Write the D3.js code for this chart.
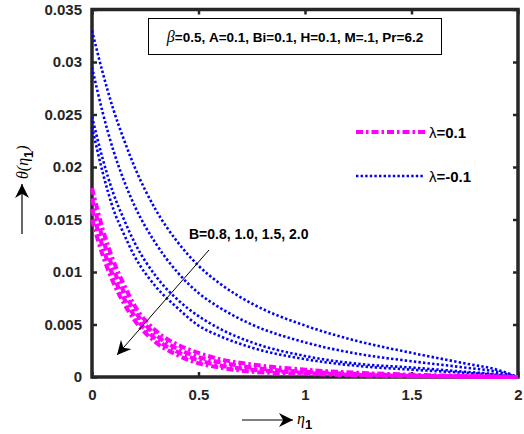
<!DOCTYPE html>
<html><head><meta charset="utf-8">
<script src="https://cdn.jsdelivr.net/npm/d3@7"></script>
<style>body{margin:0;background:#fff}svg{display:block}</style>
</head><body>
<script>
// ---- data ----
const etaValues = [0, 0.05, 0.1, 0.15, 0.2, 0.3, 0.4, 0.5, 0.6, 0.75, 1.0, 1.25, 1.5, 1.75, 1.9, 2.0];
const Bvalues = ["0.8", "1.0", "1.5", "2.0"];
// lambda = -0.1 (blue dotted)
const blueB08 = [0.0330, 0.0290, 0.0255, 0.0226, 0.0200, 0.0159, 0.0129, 0.0106, 0.0089, 0.0070, 0.0049, 0.0034, 0.0023, 0.0013, 0.0007, 0];
const blueB10 = [0.0295, 0.0252, 0.0216, 0.0187, 0.0163, 0.0127, 0.0100, 0.0080, 0.0066, 0.0050, 0.0033, 0.0022, 0.0015, 0.0009, 0.0005, 0];
const blueB15 = [0.0248, 0.0208, 0.0175, 0.0150, 0.0128, 0.0096, 0.0074, 0.0058, 0.0046, 0.0033, 0.0020, 0.00125, 0.0009, 0.0005, 0.00025, 0];
const blueB20 = [0.0238, 0.0195, 0.0160, 0.0136, 0.0115, 0.0086, 0.0066, 0.0049, 0.0039, 0.0028, 0.0017, 0.00105, 0.0007, 0.0004, 0.0002, 0];
// lambda = 0.1 (magenta dash-dot)
const magB08 = [0.0180, 0.0141, 0.0111, 0.0088, 0.0068, 0.0044, 0.0031, 0.0023, 0.0017, 0.0012, 0.0007, 0.0004, 0.00022, 0.0001, 0.00004, 0];
const magB10 = [0.0170, 0.0132, 0.0103, 0.0081, 0.0063, 0.0040, 0.0027, 0.0019, 0.0014, 0.0009, 0.0005, 0.0003, 0.00015, 0.00007, 0.00003, 0];
const magB15 = [0.0160, 0.0124, 0.0096, 0.0075, 0.0058, 0.0036, 0.0024, 0.0016, 0.0011, 0.0007, 0.0004, 0.0002, 0.0001, 0.00005, 0.00002, 0];
const magB20 = [0.0150, 0.0116, 0.0090, 0.0070, 0.0054, 0.0033, 0.0021, 0.0013, 0.0009, 0.0005, 0.0003, 0.00015, 0.00008, 0.00003, 0.00001, 0];
const xTicks = [0, 0.5, 1, 1.5, 2];
const xTickLabels = ["0", "0.5", "1", "1.5", "2"];
const yTicks = [0, 0.005, 0.01, 0.015, 0.02, 0.025, 0.03, 0.035];
const yTickLabels = ["0", "0.005", "0.01", "0.015", "0.02", "0.025", "0.03", "0.035"];
const legendLabels = ["\u03bb=0.1", "\u03bb=-0.1"];
const paramText = "=0.5, A=0.1, Bi=0.1, H=0.1, M=.1, Pr=6.2";
const bText = "B=0.8, 1.0, 1.5, 2.0";

// ---- layout ----
const W = 524, H = 434;
const L = 92, R = 518, T = 9.5, B = 377;
const axisColor = "#262626";
const svg = d3.select("body").append("svg").attr("width", W).attr("height", H);
const x = d3.scaleLinear().domain([0, 2]).range([L, R]);
const y = d3.scaleLinear().domain([0, 0.035]).range([B, T]);
const sans = "Liberation Sans, Arial, sans-serif";
const serif = "Liberation Serif, Times New Roman, serif";

function styleAxis(g, showLabels) {
  g.attr("font-family", sans).attr("font-size", 15).attr("font-weight", 700);
  g.select(".domain").remove();
  g.selectAll(".tick line").attr("stroke", axisColor).attr("stroke-width", 2.5);
  g.selectAll(".tick text").attr("fill", axisColor);
  if (!showLabels) g.selectAll(".tick text").remove();
}
const fx = (d) => xTickLabels[xTicks.indexOf(d)];
const fy = (d) => yTickLabels[yTicks.indexOf(d)];
svg.append("g").attr("transform", `translate(0,${B})`)
  .call(d3.axisBottom(x).tickValues(xTicks).tickFormat(fx).tickSizeInner(-5).tickSizeOuter(0).tickPadding(12))
  .call(g => styleAxis(g, true));
svg.append("g").attr("transform", `translate(0,${T})`)
  .call(d3.axisTop(x).tickValues(xTicks).tickSizeInner(-5).tickSizeOuter(0))
  .call(g => styleAxis(g, false));
svg.append("g").attr("transform", `translate(${L},0)`)
  .call(d3.axisLeft(y).tickValues(yTicks).tickFormat(fy).tickSizeInner(-5).tickSizeOuter(0).tickPadding(10))
  .call(g => styleAxis(g, true));
svg.append("g").attr("transform", `translate(${R},0)`)
  .call(d3.axisRight(y).tickValues(yTicks).tickSizeInner(-5).tickSizeOuter(0))
  .call(g => styleAxis(g, false));
svg.append("rect").attr("x", L).attr("y", T).attr("width", R - L).attr("height", B - T)
  .attr("fill", "none").attr("stroke", axisColor).attr("stroke-width", 3.5);

// ---- curves ----
const line = d3.line().x((d, i) => x(etaValues[i])).y(d => y(d)).curve(d3.curveMonotoneX);
const blueSeries = [blueB08, blueB10, blueB15, blueB20];
const magSeries = [magB08, magB10, magB15, magB20];
blueSeries.forEach(s => svg.append("path").attr("d", line(s)).attr("fill", "none")
  .attr("stroke", "#0000ff").attr("stroke-width", 2.6).attr("stroke-dasharray", "2.4,2.2"));
magSeries.forEach(s => svg.append("path").attr("d", line(s)).attr("fill", "none")
  .attr("stroke", "#ff00ff").attr("stroke-width", 4).attr("stroke-dasharray", "7,3,2.5,3"));

// ---- parameter box ----
svg.append("rect").attr("x", 148.5).attr("y", 18.5).attr("width", 293).attr("height", 36)
  .attr("fill", "#fff").attr("stroke", "#000").attr("stroke-width", 1);
const pt = svg.append("text").attr("x", 295).attr("y", 42).attr("text-anchor", "middle")
  .attr("font-family", sans).attr("font-size", 13.5).attr("font-weight", 700).attr("fill", "#000");
pt.append("tspan").text("\u03b2").attr("font-family", serif).attr("font-style", "italic").attr("font-weight", 400).attr("font-size", 16);
pt.append("tspan").text(paramText);

// ---- legend ----
const legY = [132, 176];
svg.append("line").attr("x1", 356).attr("x2", 425).attr("y1", legY[0]).attr("y2", legY[0])
  .attr("stroke", "#ff00ff").attr("stroke-width", 4).attr("stroke-dasharray", "7,3,2.5,3");
svg.append("line").attr("x1", 356).attr("x2", 425).attr("y1", legY[1]).attr("y2", legY[1])
  .attr("stroke", "#0000ff").attr("stroke-width", 2.6).attr("stroke-dasharray", "2.4,2.2");
legendLabels.forEach((t, i) => {
  const tx = svg.append("text").attr("x", 429).attr("y", legY[i] + 5.5)
    .attr("font-family", sans).attr("font-size", 15).attr("font-weight", 700).attr("fill", "#000");
  tx.append("tspan").text(t.slice(0, 1)).attr("font-weight", 400);
  tx.append("tspan").text(t.slice(1));
});

// ---- B annotation ----
svg.append("text").attr("x", 189).attr("y", 239).text(bText)
  .attr("font-family", sans).attr("font-size", 14).attr("font-weight", 700).attr("fill", "#000");
const defs = svg.append("defs");
defs.append("marker").attr("id", "ah").attr("viewBox", "0 0 10 10").attr("refX", 10).attr("refY", 5)
  .attr("markerWidth", 14).attr("markerHeight", 14).attr("markerUnits", "userSpaceOnUse").attr("orient", "auto")
  .append("path").attr("d", "M0,0 L10,5 L0,10 L3,5 Z").attr("fill", "#000");
svg.append("line").attr("x1", 209).attr("y1", 250).attr("x2", 117).attr("y2", 355)
  .attr("stroke", "#000").attr("stroke-width", 1).attr("marker-end", "url(#ah)");

// ---- axis labels ----
svg.append("line").attr("x1", 242).attr("y1", 420).attr("x2", 293).attr("y2", 420)
  .attr("stroke", "#000").attr("stroke-width", 1.2).attr("marker-end", "url(#ah)");
const xl = svg.append("text").attr("x", 297).attr("y", 424).attr("fill", "#000");
xl.append("tspan").text("\u03b7").attr("font-family", serif).attr("font-style", "italic").attr("font-size", 16);
xl.append("tspan").text("1").attr("dy", 5).attr("font-family", sans).attr("font-size", 13).attr("font-weight", 700);

svg.append("line").attr("x1", 22).attr("y1", 234).attr("x2", 22).attr("y2", 184)
  .attr("stroke", "#000").attr("stroke-width", 1.2).attr("marker-end", "url(#ah)");
const yl = svg.append("text").attr("transform", "translate(28,179) rotate(-90)").attr("fill", "#000");
yl.append("tspan").text("\u03b8(").attr("font-family", serif).attr("font-style", "italic").attr("font-size", 16);
yl.append("tspan").text("\u03b7").attr("font-family", serif).attr("font-style", "italic").attr("font-size", 16);
yl.append("tspan").text("1").attr("dy", 5).attr("font-family", sans).attr("font-size", 13).attr("font-weight", 700);
yl.append("tspan").text(")").attr("dy", -5).attr("font-family", serif).attr("font-style", "italic").attr("font-size", 16);
</script>
</body></html>
